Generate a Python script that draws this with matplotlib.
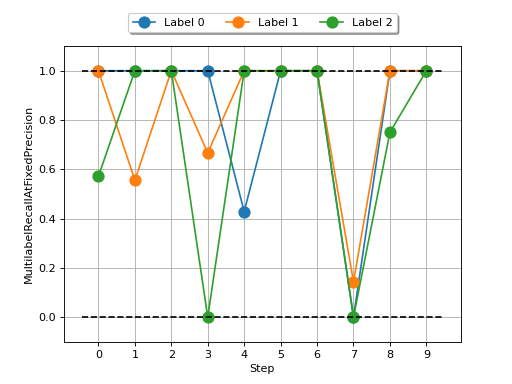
import matplotlib
matplotlib.use('Agg')
import matplotlib.pyplot as plt
import numpy as np

steps = np.arange(10)
label0 = [1.0, 1.0, 1.0, 1.0, 0.4286, 1.0, 1.0, 0.0, 1.0, 1.0]
label1 = [1.0, 0.5556, 1.0, 0.6667, 1.0, 1.0, 1.0, 0.1429, 1.0, 1.0]
label2 = [0.5714, 1.0, 1.0, 0.0, 1.0, 1.0, 1.0, 0.0, 0.75, 1.0]
series = [label0, label1, label2]
names = ['Label 0', 'Label 1', 'Label 2']

fig, ax = plt.subplots(figsize=(6.4, 4.8), dpi=80)
for vals, name in zip(series, names):
    ax.plot(steps, vals, marker='o', markersize=10, label=name)
ax.hlines([0, 1], -0.45, 9.45, colors='k', linestyles='--')
ax.set_ylim(-0.1, 1.1)
ax.set_xticks(steps)
ax.grid(True)
ax.set_xlabel('Step')
ax.set_ylabel('MultilabelRecallAtFixedPrecision')
ax.legend(loc='upper center', bbox_to_anchor=(0.5, 1.13), ncol=3, shadow=True)
fig.savefig('out.png')
